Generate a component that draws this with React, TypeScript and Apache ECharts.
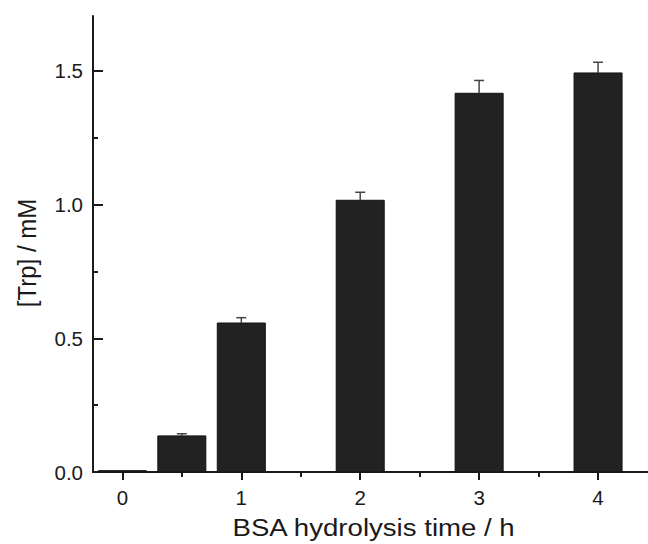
import React, { useEffect, useRef } from "react";
import * as echarts from "echarts";

const times = [0, 0.5, 1, 2, 3, 4];
const trpValues = [0.005, 0.135, 0.557, 1.016, 1.416, 1.492];
const trpErrors = [0, 0.008, 0.02, 0.03, 0.048, 0.04];
const xMajorTicks = [0, 1, 2, 3, 4];
const xMinorTicks = [0.5, 1.5, 2.5, 3.5];
const yMajorTicks = [0, 0.5, 1.0, 1.5];
const yMinorTicks = [0.25, 0.75, 1.25];

const FONT = "'Liberation Sans', Arial, sans-serif";
const INK = "#1a1a1a";

export default function App() {
  const ref = useRef<HTMLDivElement>(null);
  useEffect(() => {
    if (!ref.current) return;
    const chart = echarts.init(ref.current, undefined, { renderer: "svg" });
    const data = times.map((t, i) => [t, trpValues[i], trpErrors[i]]);
    const xCommon = {
      type: "value" as const,
      min: -0.247,
      max: 4.42,
      position: "bottom" as const,
      splitLine: { show: false },
    };
    const yCommon = {
      type: "value" as const,
      min: 0,
      max: 1.705,
      position: "left" as const,
      splitLine: { show: false },
    };
    chart.setOption({
      animation: false,
      backgroundColor: "#ffffff",
      grid: { left: 93, right: 0, top: 16, bottom: 72, containLabel: false },
      xAxis: [
        {
          ...xCommon,
          axisLine: { show: true, onZero: false, lineStyle: { color: INK, width: 2 } },
          axisTick: {
            show: true,
            inside: false,
            length: 8,
            customValues: xMajorTicks,
            lineStyle: { color: INK, width: 2 },
          },
          axisLabel: {
            show: true,
            customValues: xMajorTicks,
            margin: 15,
            fontSize: 20.5,
            fontFamily: FONT,
            color: INK,
          },
        },
        {
          ...xCommon,
          axisLine: { show: false, onZero: false },
          axisTick: {
            show: true,
            inside: false,
            length: 5,
            customValues: xMinorTicks,
            lineStyle: { color: INK, width: 2 },
          },
          axisLabel: { show: false },
        },
      ],
      yAxis: [
        {
          ...yCommon,
          axisLine: { show: true, onZero: false, lineStyle: { color: INK, width: 2 } },
          axisTick: {
            show: true,
            inside: true,
            length: 10,
            customValues: yMajorTicks,
            lineStyle: { color: INK, width: 2 },
          },
          axisLabel: {
            show: true,
            customValues: yMajorTicks,
            margin: 10,
            fontSize: 20.5,
            fontFamily: FONT,
            color: INK,
            formatter: (v: number) => v.toFixed(1),
          },
        },
        {
          ...yCommon,
          axisLine: { show: false, onZero: false },
          axisTick: {
            show: true,
            inside: true,
            length: 5,
            customValues: yMinorTicks,
            lineStyle: { color: INK, width: 2 },
          },
          axisLabel: { show: false },
        },
      ],
      graphic: [
        {
          type: "text",
          x: 232.5,
          y: 528,
          scaleX: 1.15,
          style: {
            text: "BSA hydrolysis time / h",
            fontSize: 24,
            fontFamily: FONT,
            fill: INK,
            align: "left",
            verticalAlign: "middle",
          },
        },
        {
          type: "text",
          x: 27,
          y: 253,
          rotation: Math.PI / 2,
          scaleY: 1.1,
          style: {
            text: "[Trp] / mM",
            fontSize: 24,
            fontFamily: FONT,
            fill: INK,
            align: "center",
            verticalAlign: "middle",
          },
        },
      ],
      series: [
        {
          type: "custom",
          xAxisIndex: 0,
          yAxisIndex: 0,
          data,
          clip: false,
          renderItem: (params: any, api: any) => {
            const x = api.value(0);
            const v = api.value(1);
            const e = api.value(2);
            const top = api.coord([x, v]);
            const base = api.coord([x, 0]);
            const errTop = api.coord([x, v + e]);
            const w = 48;
            const children: any[] = [
              {
                type: "rect",
                shape: { x: top[0] - w / 2, y: top[1], width: w, height: Math.max(base[1] - top[1], 1) },
                style: { fill: "#222222", stroke: "#111111", lineWidth: 1 },
              },
            ];
            if (e > 0) {
              children.push(
                {
                  type: "line",
                  shape: { x1: top[0], y1: top[1], x2: errTop[0], y2: errTop[1] },
                  style: { stroke: "#444444", lineWidth: 1.5 },
                },
                {
                  type: "line",
                  shape: { x1: errTop[0] - 5, y1: errTop[1], x2: errTop[0] + 5, y2: errTop[1] },
                  style: { stroke: "#444444", lineWidth: 1.5 },
                }
              );
            }
            return { type: "group", children };
          },
        },
      ],
    });
    return () => chart.dispose();
  }, []);
  return <div ref={ref} style={{ width: 648, height: 544, position: "absolute", left: 0, top: 0 }} />;
}
